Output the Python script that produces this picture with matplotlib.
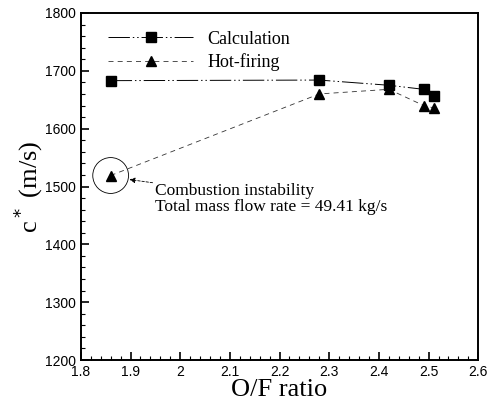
import matplotlib
matplotlib.use('Agg')
import matplotlib.pyplot as plt
from matplotlib.ticker import MultipleLocator
from matplotlib.patches import Ellipse

# data
of_calc = [1.86, 2.28, 2.42, 2.49, 2.51]
cstar_calc = [1683, 1684, 1675, 1668, 1656]
of_hot = [1.86, 2.28, 2.42, 2.49, 2.51]
cstar_hot = [1519, 1660, 1668, 1640, 1636]

serif = ['Liberation Serif', 'DejaVu Serif']
sans = ['Liberation Sans', 'DejaVu Sans']

fig = plt.figure(figsize=(4.9, 4.05), dpi=100)
ax = fig.add_axes([0.165, 0.111, 0.811, 0.857])

ax.plot(of_calc, cstar_calc, color='black', lw=0.7, dashes=(22, 3, 1.5, 3, 1.5, 3),
        marker='s', ms=6.5, mfc='black', label='Calculation')
ax.plot(of_hot, cstar_hot, color='#333333', lw=0.6, dashes=(6, 5),
        marker='^', ms=7, mfc='black', mec='black', label='Hot-firing')

ax.set_xlim(1.8, 2.6)
ax.set_ylim(1200, 1800)
ax.xaxis.set_minor_locator(MultipleLocator(0.02))
ax.yaxis.set_major_locator(MultipleLocator(100))
ax.yaxis.set_minor_locator(MultipleLocator(20))
ax.set_xticks([1.8, 1.9, 2.0, 2.1, 2.2, 2.3, 2.4, 2.5, 2.6])
ax.set_xticklabels(['1.8', '1.9', '2', '2.1', '2.2', '2.3', '2.4', '2.5', '2.6'])
ax.tick_params(which='major', direction='in', length=6, width=1.2, top=False, right=False)
ax.tick_params(which='minor', direction='in', length=3, width=0.8, top=False, right=False)
for lab in ax.get_xticklabels() + ax.get_yticklabels():
    lab.set_family(sans)
    lab.set_fontsize(10)
for sp in ax.spines.values():
    sp.set_linewidth(1.4)

ax.set_xlabel('O/F ratio', family=serif, fontsize=19, labelpad=0)
ax.set_ylabel('c$^*$ (m/s)', family=serif, fontsize=19, labelpad=0)

leg = ax.legend(loc='upper left', bbox_to_anchor=(0.028, 0.996), frameon=False,
                handlelength=4.7, handletextpad=0.8, labelspacing=0.3,
                prop={'family': serif, 'size': 13})

# circle around the unstable point
circ = Ellipse((1.86, 1519), 0.072, 62, fill=False, lw=0.6, color='black')
ax.add_patch(circ)
ax.annotate('Combustion instability\nTotal mass flow rate = 49.41 kg/s',
            xy=(1.898, 1512), xytext=(1.95, 1506), ha='left', va='top',
            family=serif, fontsize=12.5, linespacing=1.0,
            arrowprops=dict(arrowstyle='-|>', lw=0.6, color='black',
                            linestyle=(0, (3, 2)), mutation_scale=8,
                            shrinkA=0, shrinkB=0))

fig.savefig('out.png', dpi=100)
